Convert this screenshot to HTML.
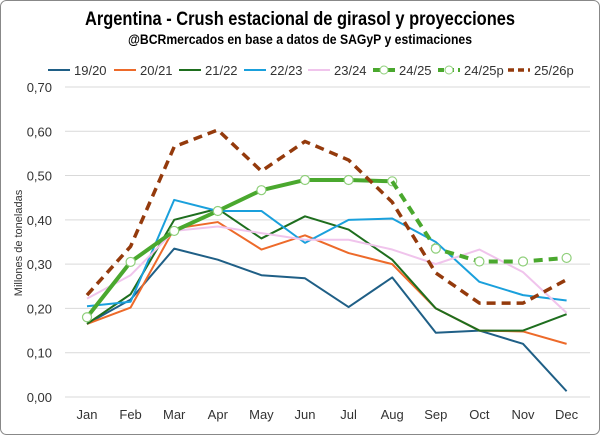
<!DOCTYPE html><html><head><style>body{margin:0;background:#fff}svg{display:block;font-family:"Liberation Sans",sans-serif}</style></head><body>
<svg id="s" width="600" height="435" xmlns="http://www.w3.org/2000/svg">
<rect x="0.5" y="0.5" width="599" height="434" rx="6" fill="#fff" stroke="#888"/>
<text x="85" y="25" textLength="430" lengthAdjust="spacingAndGlyphs" font-size="19" font-weight="bold" fill="#000">Argentina - Crush estacional de girasol y proyecciones</text>
<text x="128" y="44" textLength="344" lengthAdjust="spacingAndGlyphs" font-size="13.5" font-weight="bold" fill="#000">@BCRmercados en base a datos de SAGyP y estimaciones</text>
<text transform="translate(22,243) rotate(-90)" text-anchor="middle" font-size="11" fill="#333">Millones de toneladas</text>
<g id="g"></g>
</svg>
<script>
const g=document.getElementById('g');let h='';
const Y=v=>397-v*442.9, X=i=>87+i*43.6;
for(let k=0;k<=7;k++){const y=Y(k/10);h+=`<line x1="65" x2="590" y1="${y}" y2="${y}" stroke="#d9d9d9"/><text x="52" y="${y+5}" text-anchor="end" font-size="13" fill="#333">${(k/10).toFixed(2).replace('.',',')}</text>`;}
const m=['Jan','Feb','Mar','Apr','May','Jun','Jul','Aug','Sep','Oct','Nov','Dec'];
m.forEach((t,i)=>h+=`<text x="${X(i)}" y="419" text-anchor="middle" font-size="13" fill="#333">${t}</text>`);
const S=[
['#1f5f86',2,'',0,[.165,.22,.335,.31,.275,.268,.203,.27,.145,.15,.12,.013]],
['#ed6a2a',2,'',0,[.165,.202,.38,.395,.333,.365,.325,.30,.2,.15,.148,.12]],
['#1e6e1e',2,'',0,[.165,.232,.40,.425,.358,.408,.378,.31,.20,.15,.15,.187]],
['#1aa0dc',2,'',0,[.205,.215,.445,.42,.42,.348,.40,.403,.35,.26,.23,.218]],
['#f0c4ec',2,'',0,[.222,.275,.375,.385,.37,.355,.355,.333,.30,.333,.282,.19]],
['#4aa82e',4,'',0,[.18,.305,.375,.42,.467,.49,.49,.487]],
['#4aa82e',4,'9,6',7,[.487,.335,.306,.306,.314]],
['#943a0c',3.5,'9,6',0,[.23,.34,.565,.603,.51,.577,.535,.44,.28,.212,.212,.265]]];
const names=['19/20','20/21','21/22','22/23','23/24','24/25','24/25p','25/26p'];
const lx=[48,114,179,244,308,373,438,508];
S.forEach((s,k)=>{const [c,w,d,off,v]=s;const p=v.map((a,i)=>X(i+off)+','+Y(a)).join(' ');
h+=`<polyline points="${p}" fill="none" stroke="${c}" stroke-width="${w}" stroke-dasharray="${d}" stroke-linejoin="round"/>`;
if(k==5||k==6)v.forEach((a,i)=>{if(!(k==6&&i==0))h+=`<circle cx="${X(i+off)}" cy="${Y(a)}" r="4.5" fill="#fff" stroke="#8fcf7a" stroke-width="1.2"/>`;});
const x=lx[k];h+=`<line x1="${x}" x2="${x+22}" y1="70" y2="70" stroke="${c}" stroke-width="${w}" stroke-dasharray="${d?'6,4':''}"/>`;
if(k==5||k==6)h+=`<circle cx="${x+11}" cy="70" r="4" fill="#fff" stroke="#8fcf7a"/>`;
h+=`<text x="${x+26}" y="75" font-size="13" fill="#333">${names[k]}</text>`;});
g.innerHTML=h;
</script>
</body></html>
